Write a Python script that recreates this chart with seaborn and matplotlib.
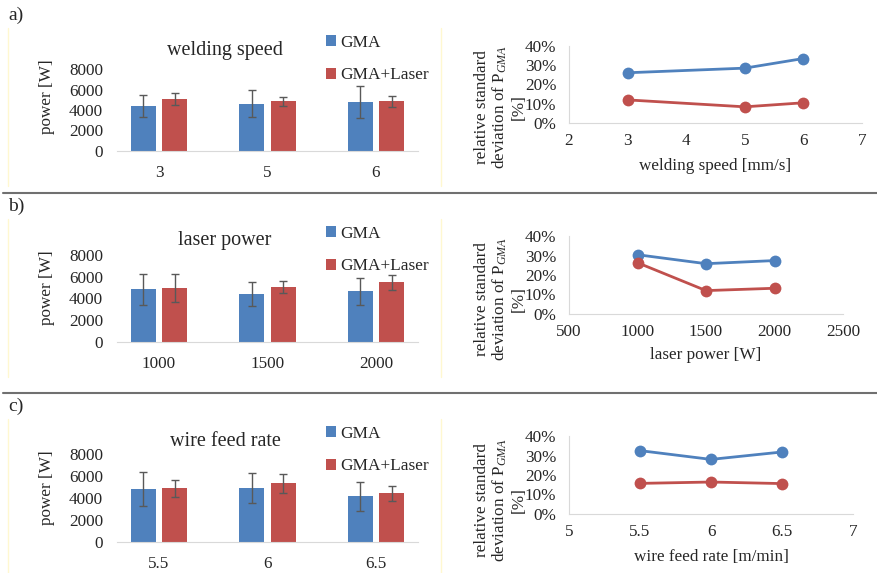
import pandas as pd
import seaborn as sns
import matplotlib.pyplot as plt
from matplotlib.ticker import PercentFormatter

sns.set_style("white")
plt.rcParams['font.family'] = ['Liberation Serif', 'DejaVu Serif']
plt.rcParams['mathtext.fontset'] = 'custom'
plt.rcParams['mathtext.rm'] = 'Liberation Serif'
plt.rcParams['mathtext.it'] = 'Liberation Serif:italic'

series = ['GMA', 'GMA+Laser']
colors = ['#4F81BD', '#C0504D']

# a) welding speed
speed = [3, 5, 6]
speed_gma = [4390, 4620, 4780]
speed_gma_sd = [1120, 1300, 1545]
speed_laser = [5040, 4850, 4850]
speed_laser_sd = [570, 420, 520]
speed_rsd_gma = [0.261, 0.285, 0.335]
speed_rsd_laser = [0.120, 0.084, 0.105]

# b) laser power
lpower = [1000, 1500, 2000]
lpower_gma = [4840, 4410, 4680]
lpower_gma_sd = [1400, 1110, 1250]
lpower_laser = [4960, 5080, 5475]
lpower_laser_sd = [1260, 565, 685]
lpower_rsd_gma = [0.304, 0.258, 0.274]
lpower_rsd_laser = [0.263, 0.120, 0.132]

# c) wire feed rate
wire = [5.5, 6, 6.5]
wire_gma = [4810, 4930, 4170]
wire_gma_sd = [1550, 1370, 1320]
wire_laser = [4900, 5350, 4410]
wire_laser_sd = [775, 865, 685]
wire_rsd_gma = [0.325, 0.280, 0.318]
wire_rsd_laser = [0.157, 0.164, 0.156]

W, H = 877, 573
fig = plt.figure(figsize=(W / 100, H / 100), dpi=100)


def box(l, t, r, b):
    return [l / W, 1 - b / H, (r - l) / W, (b - t) / H]


rows = [
    dict(tag='a)', title='welding speed', xlab='welding speed [mm/s]',
         x=speed, gma=speed_gma, gsd=speed_gma_sd, las=speed_laser, lsd=speed_laser_sd,
         rg=speed_rsd_gma, rl=speed_rsd_laser, xlim=(2, 7), xstep=1,
         y0=0, bar=(69, 151), line=(46, 123, 862), xl=166, yl=107),
    dict(tag='b)', title='laser power', xlab='laser power [W]',
         x=lpower, gma=lpower_gma, gsd=lpower_gma_sd, las=lpower_laser, lsd=lpower_laser_sd,
         rg=lpower_rsd_gma, rl=lpower_rsd_laser, xlim=(500, 2500), xstep=500,
         y0=191, bar=(255, 342), line=(236, 314, 843), xl=355, yl=299),
    dict(tag='c)', title='wire feed rate', xlab='wire feed rate [m/min]',
         x=wire, gma=wire_gma, gsd=wire_gma_sd, las=wire_laser, lsd=wire_laser_sd,
         rg=wire_rsd_gma, rl=wire_rsd_laser, xlim=(5, 7), xstep=0.5,
         y0=391, bar=(454, 542), line=(436, 514, 853), xl=557, yl=500),
]

grey = '#D9D9D9'
tick_fs = 12.3
lab_fs = 12.3

for r in rows:
    y0 = r['y0']
    cats = [f'{v:g}' for v in r['x']]
    df = pd.DataFrame({
        'cat': cats * 2,
        'series': ['GMA'] * 3 + ['GMA+Laser'] * 3,
        'power': r['gma'] + r['las'],
        'rsd': r['rg'] + r['rl'],
        'xv': r['x'] * 2,
    })

    # bar chart
    ax = fig.add_axes(box(117, r['bar'][0], 418, r['bar'][1]))
    sns.barplot(data=df, x='cat', y='power', hue='series', order=cats,
                hue_order=series, palette=colors, saturation=1, width=0.58,
                gap=0.2, errorbar=None, ax=ax, linewidth=0)
    for cont, sd in zip(ax.containers, [r['gsd'], r['lsd']]):
        xs = [p.get_x() + p.get_width() / 2 for p in cont.patches]
        hs = [p.get_height() for p in cont.patches]
        ax.errorbar(xs, hs, yerr=sd, fmt='none', ecolor='#595959',
                    elinewidth=1, capsize=3, capthick=1)
    ax.set_ylim(0, 8000)
    ax.set_yticks(range(0, 8001, 2000))
    ax.set_xlabel('')
    ax.set_ylabel('')
    sns.despine(ax=ax, left=True)
    ax.spines['bottom'].set_color(grey)
    ax.tick_params(length=0, labelsize=tick_fs)
    ax.tick_params(axis='y', pad=10)
    ax.tick_params(axis='x', pad=10)
    handles, labels = ax.get_legend_handles_labels()
    ax.legend(handles, labels, loc='center left',
              bbox_to_anchor=(326 / W, 1 - (y0 + 59) / H),
              bbox_transform=fig.transFigure, frameon=False, fontsize=12.4,
              handlelength=0.6, handleheight=0.6, handletextpad=0.25,
              labelspacing=0.95, borderpad=0, borderaxespad=0)
    fig.text(225 / W, 1 - (r['bar'][1] - 101) / H, r['title'],
             ha='center', va='center', fontsize=14.5)
    fig.text(47 / W, 1 - (r['bar'][1] - 54) / H, 'power [W]', rotation=90,
             ha='center', va='center', fontsize=lab_fs)

    # line chart
    t, b, rr = r['line']
    lx = fig.add_axes(box(569, t, rr, b))
    sns.lineplot(data=df, x='xv', y='rsd', hue='series', hue_order=series,
                 palette=colors, marker='o', markersize=8.5, markeredgewidth=0,
                 linewidth=2, legend=False, ax=lx)
    lx.set_ylim(0, 0.4)
    lx.set_yticks([0, 0.1, 0.2, 0.3, 0.4])
    lx.yaxis.set_major_formatter(PercentFormatter(1.0, decimals=0))
    x_lo, x_hi = r['xlim']
    lx.set_xlim(x_lo, x_hi)
    ticks = [x_lo + i * r['xstep'] for i in range(int(round((x_hi - x_lo) / r['xstep'])) + 1)]
    lx.set_xticks(ticks)
    lx.set_xticklabels([f'{v:g}' for v in ticks])
    lx.set_ylabel('')
    lx.set_xlabel(r['xlab'], fontsize=lab_fs)
    lx.xaxis.set_label_coords(0.5, -(r['xl'] - b) / (b - t), transform=lx.transAxes)
    lx.xaxis.label.set_va('center')
    sns.despine(ax=lx)
    lx.spines['left'].set_color(grey)
    lx.spines['bottom'].set_color(grey)
    lx.tick_params(length=0, labelsize=tick_fs)
    lx.tick_params(axis='y', pad=9)
    lx.tick_params(axis='x', pad=7)
    fig.text(500 / W, 1 - r['yl'] / H,
             'relative standard\ndeviation of P$_{GMA}$\n[%]', rotation=90,
             ha='center', va='center', multialignment='center', fontsize=lab_fs,
             linespacing=1.1)

    # panel tag and faint frames
    fig.text(8 / W, 1 - (y0 + 15) / H, r['tag'], ha='left', va='center', fontsize=14)
    for xv in (8, 441):
        fig.add_artist(plt.Line2D([xv / W, xv / W], [1 - (y0 + 28) / H, 1 - (y0 + 186) / H],
                                  transform=fig.transFigure, color='#FFF8D0', lw=1))

# separators between rows
for ys in (193, 393):
    fig.add_artist(plt.Line2D([3 / W, 1], [1 - ys / H, 1 - ys / H],
                              transform=fig.transFigure, color='#707070', lw=1.5))

fig.savefig('out.png', dpi=100)
